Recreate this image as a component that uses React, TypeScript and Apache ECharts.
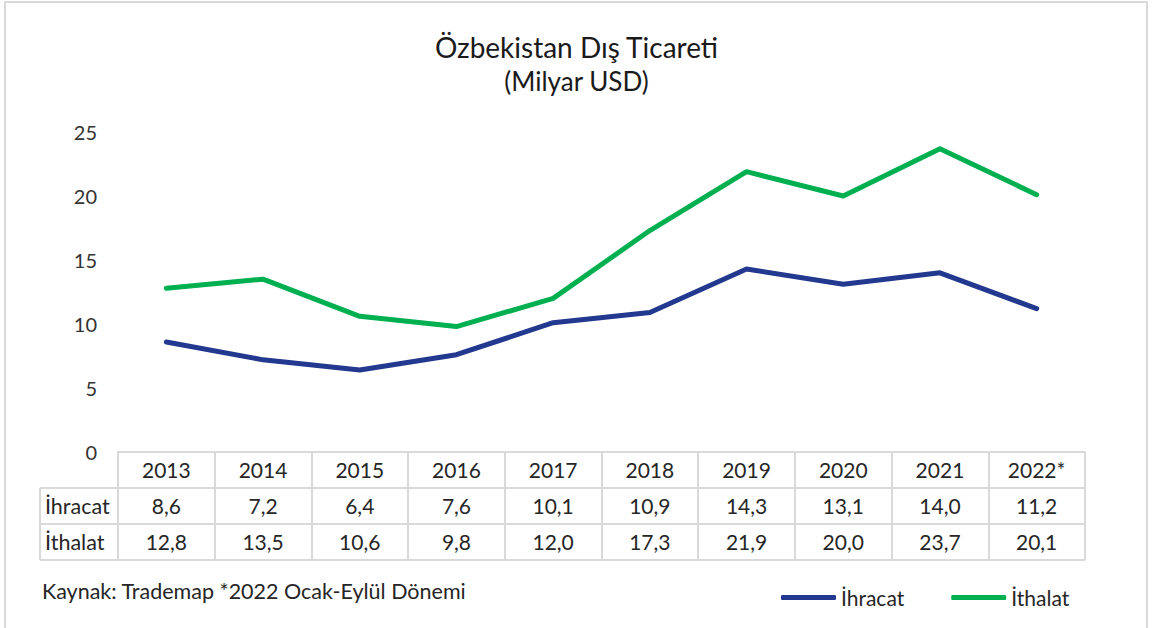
import React, { useEffect, useRef } from "react";
import * as echarts from "echarts";

const years = ["2013", "2014", "2015", "2016", "2017", "2018", "2019", "2020", "2021", "2022*"];
const exportValues = [8.6, 7.2, 6.4, 7.6, 10.1, 10.9, 14.3, 13.1, 14.0, 11.2];
const importValues = [12.8, 13.5, 10.6, 9.8, 12.0, 17.3, 21.9, 20.0, 23.7, 20.1];
const seriesNames = ["İhracat", "İthalat"];
const titleText = "Özbekistan Dış Ticareti";
const subtitleText = "(Milyar USD)";
const sourceText = "Kaynak: Trademap *2022 Ocak-Eylül Dönemi";

const FONT = "Lato, 'Open Sans', sans-serif";
const W = 1153;
const H = 628;
const gridL = 118;
const gridR = 1085;
const gridT = 132;
const axisY = 452;
const rowH = 36;
const headerL = 40;
const borderC = "#d9d9d9";
const textC = "#262626";
const blue = "#22398f";
const green = "#00b050";

const fmt = (v: number) => v.toFixed(1).replace(".", ",");

export default function App() {
  const ref = useRef<HTMLDivElement>(null);
  useEffect(() => {
    document.body.style.margin = "0";
    const chart = echarts.init(ref.current!, null, { renderer: "svg" });
    const tableBottom = axisY + rowH * 3;
    const labelStyle = { fontSize: 21, color: textC, fontFamily: FONT, margin: 7, interval: 0 };
    chart.setOption({
      animation: false,
      backgroundColor: "#ffffff",
      title: [
        { text: titleText, left: "center", top: 28, textStyle: { fontSize: 28, fontWeight: "normal", color: "#1a1a1a", fontFamily: FONT } },
        { text: subtitleText, left: "center", top: 63, textStyle: { fontSize: 26, fontWeight: "normal", color: "#1a1a1a", fontFamily: FONT } },
      ],
      legend: {
        data: seriesNames,
        left: 776,
        top: 582,
        icon: "roundRect",
        itemWidth: 55,
        itemHeight: 5,
        itemGap: 47,
        textStyle: { fontSize: 21, color: textC, fontFamily: FONT },
      },
      grid: { left: gridL, top: gridT, width: gridR - gridL, height: axisY - gridT },
      xAxis: [
        {
          type: "category",
          data: years,
          boundaryGap: true,
          axisLine: { show: true, lineStyle: { color: borderC, width: 2 } },
          axisTick: { show: true, interval: 0, length: rowH * 3, lineStyle: { color: borderC, width: 2 } },
          axisLabel: { ...labelStyle },
          splitLine: { show: false },
        },
        {
          type: "category",
          data: years,
          position: "bottom",
          offset: rowH,
          axisLine: { show: false },
          axisTick: { show: false },
          axisLabel: { ...labelStyle, formatter: (_v: string, i: number) => fmt(exportValues[i]) },
        },
        {
          type: "category",
          data: years,
          position: "bottom",
          offset: rowH * 2,
          axisLine: { show: false },
          axisTick: { show: false },
          axisLabel: { ...labelStyle, formatter: (_v: string, i: number) => fmt(importValues[i]) },
        },
      ],
      yAxis: {
        type: "value",
        min: 0,
        max: 25,
        interval: 5,
        axisLine: { show: false },
        axisTick: { show: false },
        splitLine: { show: false },
        axisLabel: { fontSize: 20, color: "#333333", fontFamily: FONT, margin: 21 },
      },
      series: [
        {
          name: seriesNames[0],
          type: "line",
          data: exportValues,
          symbol: "none",
          color: blue,
          lineStyle: { width: 5, color: blue, cap: "round", join: "round" },
        },
        {
          name: seriesNames[1],
          type: "line",
          data: importValues,
          symbol: "none",
          color: green,
          lineStyle: { width: 5, color: green, cap: "round", join: "round" },
        },
      ],
      graphic: [
        { type: "rect", shape: { x: 5, y: 2, width: 1142, height: 700 }, style: { fill: "none", stroke: borderC, lineWidth: 2 }, silent: true },
        { type: "line", shape: { x1: headerL, y1: axisY + rowH, x2: gridR, y2: axisY + rowH }, style: { stroke: borderC, lineWidth: 2 } },
        { type: "line", shape: { x1: headerL, y1: axisY + rowH * 2, x2: gridR, y2: axisY + rowH * 2 }, style: { stroke: borderC, lineWidth: 2 } },
        { type: "line", shape: { x1: headerL, y1: tableBottom, x2: gridR, y2: tableBottom }, style: { stroke: borderC, lineWidth: 2 } },
        { type: "line", shape: { x1: headerL, y1: axisY + rowH, x2: headerL, y2: tableBottom }, style: { stroke: borderC, lineWidth: 2 } },
        { type: "text", x: 45, y: axisY + rowH * 1.5, style: { text: seriesNames[0], fontSize: 21.5, fill: textC, fontFamily: FONT, align: "left", verticalAlign: "middle" } },
        { type: "text", x: 45, y: axisY + rowH * 2.5, style: { text: seriesNames[1], fontSize: 21.5, fill: textC, fontFamily: FONT, align: "left", verticalAlign: "middle" } },
        { type: "text", x: 42, y: 591, style: { text: sourceText, fontSize: 21.5, fill: textC, fontFamily: FONT, align: "left", verticalAlign: "middle" } },
      ],
    });
    return () => chart.dispose();
  }, []);
  return <div ref={ref} style={{ width: W, height: H }} />;
}
